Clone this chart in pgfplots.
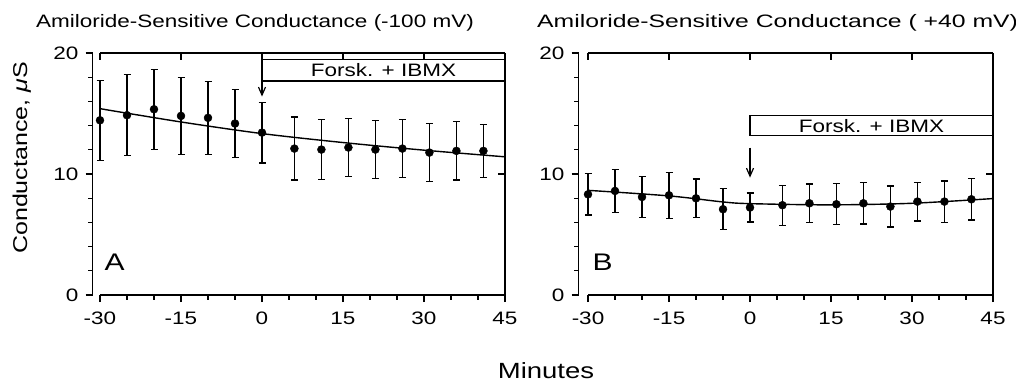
\documentclass[border=0pt]{standalone}
\usepackage{pgfplots}
\pgfplotsset{compat=1.18}
\usepackage{fontspec}
\setmainfont[FakeStretch=1.25]{Liberation Sans}
\usetikzlibrary{arrows.meta}

\pgfplotstableread{
x y e
-30 14.44 3.30
-25 14.86 3.35
-20 15.35 3.30
-15 14.80 3.20
-10 14.64 3.00
-5 14.17 2.80
0 13.42 2.50
6 12.10 2.60
11 12.02 2.50
16 12.19 2.40
21 12.02 2.40
26 12.10 2.40
31 11.77 2.40
36 11.91 2.40
41 11.91 2.20
}\dataA

\pgfplotstableread{
x y e
-30 8.32 1.70
-25 8.60 1.80
-20 8.10 1.70
-15 8.24 1.90
-10 7.99 1.60
-5 7.09 1.70
0 7.23 1.20
6 7.42 1.65
11 7.58 1.60
16 7.50 1.70
21 7.58 1.70
26 7.31 1.70
31 7.72 1.60
36 7.72 1.70
41 7.91 1.70
}\dataB

\pgfplotsset{
  noarrows/.style={
    every inner x axis line/.append style={-},
    every inner y axis line/.append style={-},
    every outer x axis line/.append style={-},
    every outer y axis line/.append style={-},
    x axis line style={-}, y axis line style={-},
  },
  common/.style={
    scale only axis, width=405pt, height=242pt,
    xmin=-30, xmax=45, ymin=0, ymax=20,
    axis line style={-, line width=1.6pt},
    every tick/.style={black, line width=1.3pt},
    major tick length=7pt, minor tick length=4.5pt,
    xtick={-30,-15,...,45}, ytick={0,10,20},
    tick label style={font=\fontsize{18}{20}\selectfont},
    /pgf/number format/assume math mode=true,
    clip=false,
  },
  bottomax/.style={common, axis x line=bottom, axis y line=none, noarrows, tick align=outside,
    minor x tick num=2, xticklabel style={yshift=-4pt}},
  topax/.style={common, axis x line=top, axis y line=none, noarrows, tick align=inside, xticklabels={}},
  rightax/.style={common, axis y line=right, axis x line=none, noarrows, tick align=inside, ytick={10}, yticklabels={}},
  leftax/.style={common, width=10pt, axis y line=left, axis x line=none, noarrows, tick align=outside,
    minor y tick num=4, yticklabel style={xshift=-1pt}},
  pts/.style={black, only marks, mark=*, mark size=4pt, mark options={fill=black, draw=black},
    error bars/.cd, y dir=both, y explicit,
    error bar style={line width=1.3pt, black},
    error mark options={rotate=90, mark size=3.5pt, line width=1.3pt, black}},
  fit/.style={black, line width=1.4pt, smooth, no marks},
}

\begin{document}
\fontsize{18}{20}\selectfont
\begin{tikzpicture}
\useasboundingbox (0pt,0pt) rectangle (1016pt,383pt);

% ---------------- Panel A ----------------
\begin{axis}[leftax, at={(92.5pt,88pt)}, anchor=south west,
  ylabel={Conductance, {\itshape μ}S}, ylabel style={font=\fontsize{20}{22}\selectfont, yshift=10pt, xshift=16pt}]
\end{axis}
\begin{axis}[topax, at={(100pt,88pt)}, anchor=south west]\end{axis}
\begin{axis}[rightax, at={(100pt,88pt)}, anchor=south west]\end{axis}
\begin{axis}[bottomax, at={(100pt,88pt)}, anchor=south west]
  \draw[line width=1.2pt] (axis cs:0,20) -- (axis cs:0,19.45);
  \draw[line width=1.2pt, fill=white] (axis cs:0,17.69) rectangle (axis cs:45,19.45);
  \node at (axis cs:22.5,18.57) {Forsk. + IBMX};
  \draw[line width=1.2pt, -{Straight Barb[length=8pt, width=7pt]}] (axis cs:0,17.69) -- (axis cs:0,16.4);
  \addplot[fit] coordinates {(-30,15.4) (-15,14.3) (0,13.34) (15,12.6) (30,11.97) (45,11.42)};
  \addplot[pts] table[x=x, y=y, y error=e] {\dataA};
  \node[font=\fontsize{24}{26}\selectfont] at (axis cs:-27.3,2.7) {A};
\end{axis}

% ---------------- Panel B ----------------
\begin{axis}[leftax, at={(578.5pt,88pt)}, anchor=south west]\end{axis}
\begin{axis}[topax, at={(588pt,88pt)}, anchor=south west]\end{axis}
\begin{axis}[rightax, at={(588pt,88pt)}, anchor=south west]\end{axis}
\begin{axis}[bottomax, at={(588pt,88pt)}, anchor=south west]
  \draw[line width=1.2pt, fill=white] (axis cs:0,13.19) rectangle (axis cs:45,14.84);
  \node at (axis cs:22.5,14.0) {Forsk. + IBMX};
  \draw[line width=1.2pt, -{Straight Barb[length=8pt, width=7pt]}] (axis cs:0,12.17) -- (axis cs:0,9.7);
  \addplot[fit] coordinates {(-30,8.65) (-15,8.19) (-5,7.69) (0,7.55) (15,7.45) (30,7.58) (45,7.97)};
  \addplot[pts] table[x=x, y=y, y error=e] {\dataB};
  \node[font=\fontsize{24}{26}\selectfont] at (axis cs:-27.3,2.7) {B};
\end{axis}

% titles
\node[anchor=base] at (255pt,355pt) {Amiloride-Sensitive Conductance (-100 mV)};
\node[anchor=base west, inner sep=0pt] at (537pt,355pt) {\scalebox{1.1}[1]{Amiloride-Sensitive Conductance ( +40 mV)}};
\node[anchor=base, font=\fontsize{22}{24}\selectfont] at (546pt,5pt) {Minutes};
\end{tikzpicture}
\end{document}
